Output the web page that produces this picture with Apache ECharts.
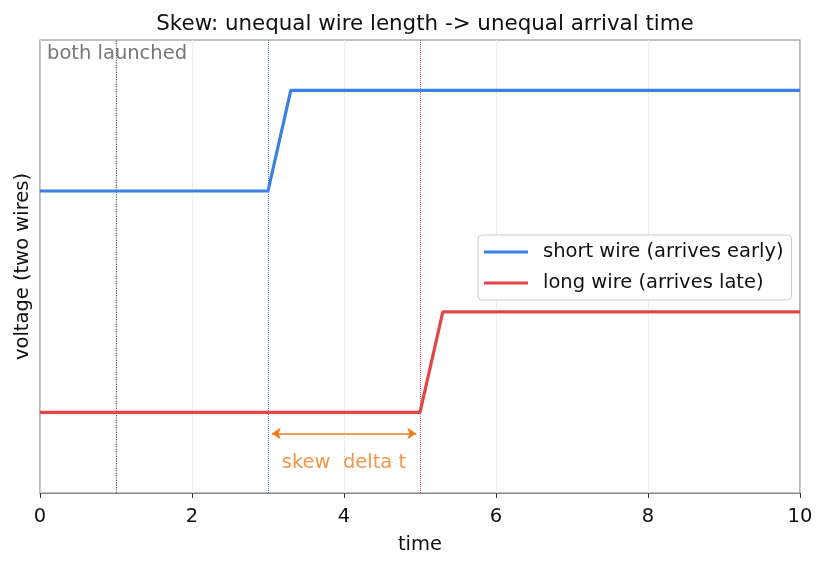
<!DOCTYPE html>
<html>
<head>
<meta charset="utf-8">
<script src="https://cdn.jsdelivr.net/npm/echarts@6/dist/echarts.min.js"></script>
<style>
  html, body { margin: 0; padding: 0; background: #fff; }
  #chart { width: 826px; height: 567px; }
</style>
</head>
<body>
<div id="chart"></div>
<script>
// short wire: arrives early (rises at t=3)
var shortX = [0, 3, 3.3, 10];
var shortY = [2.2, 2.2, 3.2, 3.2];
// long wire: arrives late (rises at t=5)
var longX = [0, 5, 5.3, 10];
var longY = [0, 0, 1, 1];
var launchT = 1;
var skewFrom = 3;
var skewTo = 5;
var xTicks = [0, 2, 4, 6, 8, 10];

function pairs(xs, ys) {
    var out = [];
    for (var i = 0; i < xs.length; i++) {
        out.push([xs[i], ys[i]]);
    }
    return out;
}

var myChart = echarts.init(document.getElementById('chart'));
var font = 'DejaVu Sans';
var fs = 19.5;

option = {
    animation: false,
    textStyle: { fontFamily: font },
    title: {
        text: 'Skew: unequal wire length -> unequal arrival time',
        left: 420, top: 9, textAlign: 'center',
        textStyle: { fontSize: 21.4, fontWeight: 'normal', color: '#111', fontFamily: font }
    },
    grid: {
        left: 40, right: 26, top: 40, bottom: 74,
        show: true, borderColor: '#888', borderWidth: 1.2
    },
    legend: {
        orient: 'vertical',
        left: 478, top: 235,
        padding: [7, 8, 7, 6],
        itemGap: 11,
        itemWidth: 44, itemHeight: 3,
        backgroundColor: '#fff',
        borderColor: '#ccc', borderWidth: 1, borderRadius: 4,
        textStyle: { fontSize: fs, color: '#111', fontFamily: font, padding: [0, 0, 0, 10] },
        data: [
            { name: 'short wire (arrives early)', icon: 'rect' },
            { name: 'long wire (arrives late)', icon: 'rect' }
        ]
    },
    graphic: [{
        type: 'text', left: 47, top: 44,
        style: { text: 'both launched', fontSize: fs, fill: '#777', fontFamily: font }
    }],
    xAxis: {
        type: 'value', min: 0, max: 10, interval: 2,
        name: 'time', nameLocation: 'middle', nameGap: 42,
        nameTextStyle: { fontSize: fs, color: '#111' },
        axisLine: { show: true, onZero: false, lineStyle: { color: '#888', width: 1.2 } },
        axisTick: { show: true, length: 5, lineStyle: { color: '#333' } },
        axisLabel: { fontSize: fs, color: '#111', margin: 14,
            formatter: function (v) { return xTicks.indexOf(v) >= 0 ? String(v) : ''; } },
        splitLine: { show: true, lineStyle: { color: '#ddd', type: 'dotted', width: 1 } }
    },
    yAxis: {
        type: 'value', min: -0.8, max: 3.7,
        name: 'voltage (two wires)', nameLocation: 'middle', nameGap: 7,
        nameTextStyle: { fontSize: fs, color: '#111' },
        axisLine: { show: false },
        axisTick: { show: false },
        axisLabel: { show: false },
        splitLine: { show: false }
    },
    series: [
        {
            name: 'short wire (arrives early)',
            type: 'line',
            data: pairs(shortX, shortY),
            symbol: 'none',
            color: '#3a80e6',
            lineStyle: { width: 3.2, color: '#3a80e6' },
            z: 5,
            markLine: {
                silent: true, symbol: 'none', label: { show: false },
                data: [
                    { xAxis: launchT, lineStyle: { color: '#555', type: 'dotted', width: 1.2 } },
                    { xAxis: skewFrom, lineStyle: { color: '#3a80e6', type: 'dotted', width: 1 } },
                    { xAxis: skewTo, lineStyle: { color: '#d9505a', type: 'dotted', width: 1 } }
                ]
            }
        },
        {
            name: 'long wire (arrives late)',
            type: 'line',
            data: pairs(longX, longY),
            symbol: 'none',
            color: '#e44646',
            lineStyle: { width: 3.2, color: '#e44646' },
            z: 5,
            markLine: {
                silent: true,
                symbol: ['arrow', 'arrow'], symbolSize: [9, 9],
                label: { show: false },
                lineStyle: { color: '#f07c1c', type: 'solid', width: 1.5 },
                data: [[
                    { coord: [skewFrom + 0.05, -0.21] },
                    { coord: [skewTo - 0.05, -0.21] }
                ]]
            }
        },
        {
            name: 'skew label',
            type: 'scatter',
            data: [[(skewFrom + skewTo) / 2, -0.5]],
            symbolSize: 0,
            silent: true,
            label: {
                show: true, position: 'inside',
                formatter: 'skew  delta t',
                fontSize: fs, color: '#f07c1c', fontFamily: font
            }
        }
    ]
};

myChart.setOption(option);
</script>
</body>
</html>
